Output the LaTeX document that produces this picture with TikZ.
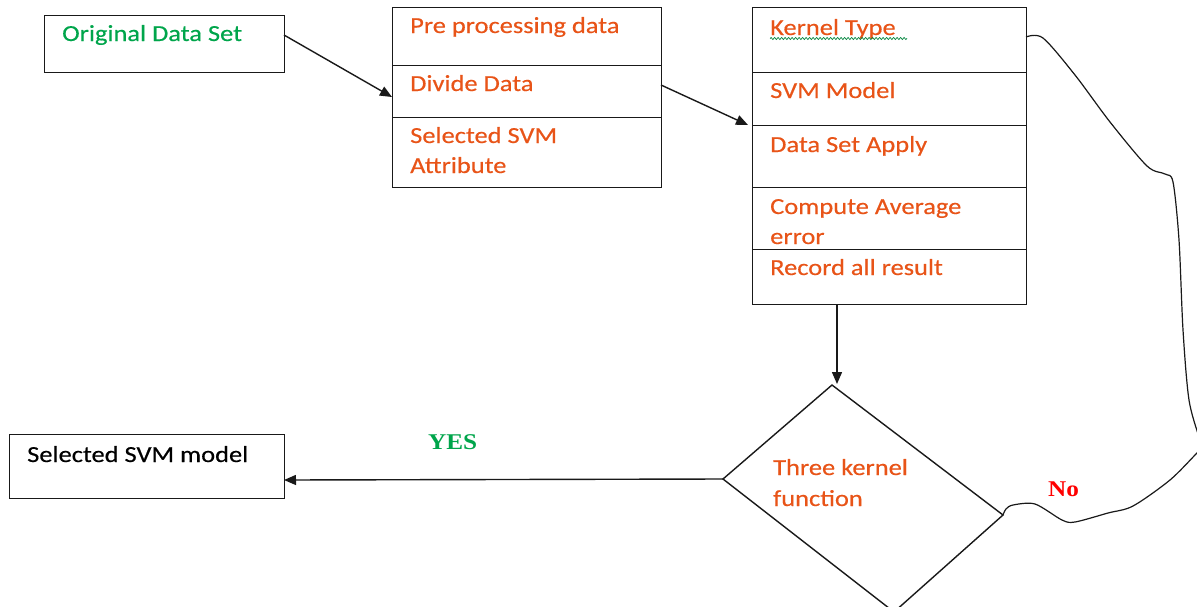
\documentclass[tikz,border=0pt]{standalone}
\usepackage{fontspec}
\setmainfont{Carlito}[FakeStretch=1.15,FakeBold=0.4]
\newfontfamily\tnr{Liberation Serif}[FakeStretch=1.12]
\usetikzlibrary{arrows.meta,decorations.pathmorphing}
\definecolor{txtorange}{RGB}{232,84,24}
\definecolor{txtgreen}{RGB}{0,165,75}
\definecolor{linegray}{RGB}{25,25,25}
\definecolor{txtred}{RGB}{255,0,0}
\begin{document}
\begin{tikzpicture}[x=1pt,y=-1pt,
  cell/.style={draw=linegray, line width=1.4pt, inner sep=0pt, anchor=north west},
  lbl/.style={anchor=base west, inner sep=0pt, font=\fontsize{23}{27}\selectfont, text=txtorange},
  serlbl/.style={anchor=base west, inner sep=0pt, font=\tnr\bfseries\fontsize{22.5}{26}\selectfont},
  arr/.style={draw=linegray, line width=1.4pt, -{Triangle[length=12pt,width=10pt]}},
  conn/.style={draw=linegray, line width=1.4pt}]
\useasboundingbox (0,0) rectangle (1197,606);
\clip (0,0) rectangle (1197,606);
% box 1
\node[cell, minimum width=240pt, minimum height=57pt] (b1) at (44,15) {};
\node[lbl, text=txtgreen] (t1) at (62,41) {Original Data Set};
% box 2
\node[cell, minimum width=269pt, minimum height=58pt] (b2a) at (392,7) {};
\node[cell, minimum width=269pt, minimum height=52pt] (b2b) at (392,65) {};
\node[cell, minimum width=269pt, minimum height=70pt] (b2c) at (392,117) {};
\node[lbl] (t2a) at (410,33) {Pre processing data};
\node[lbl] (t2b) at (410,91) {Divide Data};
\node[lbl] (t2c) at (410,143) {Selected SVM};
\node[lbl] (t2d) at (410,173) {Attribute};
% box 3
\node[cell, minimum width=274pt, minimum height=65pt] (b3a) at (752,7) {};
\node[cell, minimum width=274pt, minimum height=53pt] (b3b) at (752,72) {};
\node[cell, minimum width=274pt, minimum height=62pt] (b3c) at (752,125) {};
\node[cell, minimum width=274pt, minimum height=62pt] (b3d) at (752,187) {};
\node[cell, minimum width=274pt, minimum height=55pt] (b3e) at (752,249) {};
\node[lbl] (t3a) at (770,35) {Kernel Type};
\draw[txtgreen!80!black, line width=0.7pt, decorate, decoration={snake, amplitude=1pt, segment length=3.5pt}] (t3a.base west) ++(0,3.5) -- ++(137,0);
\node[lbl] (t3b) at (770,98) {SVM Model};
\node[lbl] (t3c) at (770,152) {Data Set Apply};
\node[lbl] (t3d) at (770,214) {Compute Average};
\node[lbl] (t3e) at (770,244) {error};
\node[lbl] (t3f) at (770,275) {Record all result};
% decision
\coordinate (dtop) at (832,385);
\coordinate (dleft) at (723,479);
\coordinate (dright) at (1003,515);
\coordinate (dbot) at (894,612);
\draw[conn] (dtop) -- (dright) -- (dbot) -- (dleft) -- cycle;
\node[lbl] (t4a) at (773,475) {Three kernel};
\node[lbl] (t4b) at (773,506) {function};
% result box
\node[cell, minimum width=275pt, minimum height=64pt] (b4) at (9,434) {};
\node[lbl, text=black] (t5) at (27,462) {Selected SVM model};
% labels
\node[serlbl, text=txtgreen] (yes) at (428,449) {YES};
\node[serlbl, text=txtred] (no) at (1048,496) {No};
% connectors
\coordinate (a1s) at (284,35);
\coordinate (a1e) at (392,97);
\draw[arr] (a1s) -- (a1e);
\coordinate (a2s) at (661,85);
\coordinate (a2e) at (748,125);
\draw[arr] (a2s) -- (a2e);
\coordinate (a3s) at (837,304);
\coordinate (a3e) at (837,384);
\draw[arr] (a3s) -- (a3e);
\coordinate (a4e) at (284,480);
\draw[arr] (dleft) -- (a4e);
\coordinate (cs) at (1026,37);
\draw[conn, line width=1.2pt] plot[smooth, tension=0.5] coordinates {(cs) (1043,38) (1075,75) (1110,122) (1147,166) (1165,174) (1173,182) (1179,240) (1183,330) (1189,400) (1200,440) (1203,448) (1197,453) (1170,480) (1133,506) (1108,513) (1075,522) (1062,520) (1035,504) (1013,505) (1006,509) (dright)};
\end{tikzpicture}
\end{document}
